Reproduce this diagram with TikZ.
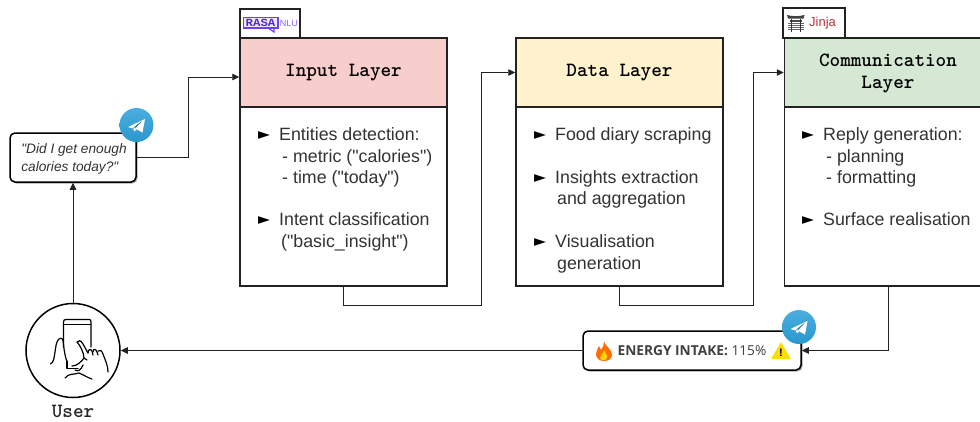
\documentclass[tikz,border=0pt]{standalone}
\usepackage{fontspec}
\newfontfamily\bodyf{Liberation Sans}
\newfontfamily\dejaf{DejaVu Sans}
\newfontfamily\monof{Liberation Mono}
\newfontfamily\opens{Open Sans}
\usetikzlibrary{arrows.meta,shadows}
\definecolor{hpink}{HTML}{F8CECC}
\definecolor{hyellow}{HTML}{FFF2CC}
\definecolor{hgreen}{HTML}{D5E8D4}
\definecolor{tgblue}{HTML}{2B9FD9}
\definecolor{rasap}{HTML}{6F3FF5}
\definecolor{jinjar}{HTML}{B8343C}
\definecolor{linec}{HTML}{222222}
\definecolor{textc}{HTML}{333333}
\tikzset{
  x=1pt,y=-1pt,
  headbox/.style={draw=linec,line width=1.5pt,minimum width=207pt,minimum height=69pt,inner sep=0pt,align=center,
    font=\ttfamily\bfseries\fontsize{20.2}{22}\selectfont},
  bodybox/.style={draw=linec,line width=1.5pt,fill=white,minimum width=207pt,minimum height=179pt,inner sep=0pt},
  tabbox/.style={draw=linec,line width=1.5pt,fill=white,inner sep=0pt},
  line/.style={anchor=base west,yshift=-6pt,inner sep=0pt,font=\bodyf\fontsize{17.8}{19}\selectfont,text=textc},
  tick/.style={anchor=base west,yshift=-5.5pt,inner sep=0pt,font=\dejaf\fontsize{15.5}{15}\selectfont,text=black},
  bubble/.style={draw=black,line width=1.5pt,fill=white,rounded corners=5pt,inner sep=0pt,align=center,
    drop shadow={shadow xshift=1.5pt,shadow yshift=-1.5pt,opacity=.35,fill=black}},
  conn/.style={draw=linec,line width=0.8pt,-{Triangle[length=7pt,width=6.5pt]}},
  hand/.style={draw=black,line width=1.2pt,line cap=round,line join=round},
  tgcircle/.style={circle,top color=tgblue!85!white,bottom color=tgblue!95!black,minimum size=34pt,inner sep=0pt},
}
\newcommand{\planeat}[1]{%
  \begin{scope}[shift={(#1.center)}]
  \fill[white] (-8.5,2) -- (8.5,-6) -- (6,7.5) -- (0,4.3) -- (-2,6.5) -- (-3.5,3.5) -- cycle;
  \draw[tgblue!70!black,line width=0.4pt] (-3.5,3.5) -- (5,-3.5) -- (-1.5,3.3);
  \end{scope}
}
\begin{document}
\begin{tikzpicture}
\useasboundingbox (0,0) rectangle (980,421);
\clip (0,0) rectangle (980,421);
% tabs
\node[tabbox,minimum width=60pt,minimum height=29pt] (rasatab) at (270,23.5) {};
\node[tabbox,minimum width=62pt,minimum height=30pt] (jinjatab) at (814,23) {};
% rasa logo
\draw[rasap,line width=1.2pt,fill=rasap!12] (243.5,17.5) rectangle (278,28);
\draw[rasap,line width=1.2pt] (268,28) -- (274,32) -- (274,28);
\node[inner sep=0pt,text=rasap!75!black,xscale=1.12,font=\monof\bfseries\fontsize{11}{11}\selectfont] (rasaword) at (260.5,23) {RASA};
\node[inner sep=0pt,text=rasap!80!white,font=\bodyf\fontsize{9}{10}\selectfont] (nlu) at (288.8,23) {NLU};
% jinja logo
\fill[black!75] (787,15) .. controls (792,16.5) and (799,16.5) .. (804.5,15) -- (803.5,18.5) -- (788,18.5) -- cycle;
\fill[black!70] (789.5,20) rectangle (802,21.5);
\foreach \yy in {23,25,27,29}{\fill[black!60] (788,\yy) rectangle (803.5,\yy+1);}
\fill[black!80] (790.5,19) rectangle (792,32);
\fill[black!80] (799.5,19) rectangle (801,32);
\node[inner sep=0pt,text=jinjar,font=\bodyf\fontsize{13}{14}\selectfont] (jinjaword) at (822.5,23.5) {Jinja};
% layers
\node[headbox,fill=hpink] (inhead) at (343.5,72.5) {Input Layer};
\node[bodybox] (inbody) at (343.5,196.5) {};
\node[headbox,fill=hyellow] (datahead) at (619.5,72.5) {Data Layer};
\node[bodybox] (databody) at (619.5,196.5) {};
\node[bodybox] (commbody) at (888,196.5) {};
\node[headbox,fill=hgreen] (commhead) at (888,72.5) {};
\node[inner sep=0pt,align=center,font=\ttfamily\bfseries\fontsize{20.2}{22}\selectfont] (commtext) at (888,73.5) {Communication\\Layer};
% input text
\foreach \yy/\nn in {134/a,219/b}{\node[tick] (inb\nn) at (258,\yy) {►};}
\node[line] (in1) at (279,134) {Entities detection:};
\node[line] (in2) at (282,156) {- metric ("calories")};
\node[line] (in3) at (282,177) {- time ("today")};
\node[line] (in4) at (279,219) {Intent classification};
\node[line] (in5) at (281,241) {("basic\_insight")};
% data text
\foreach \yy/\nn in {134/a,177/b,241/c}{\node[tick] (dab\nn) at (534,\yy) {►};}
\node[line] (da1) at (555,134) {Food diary scraping};
\node[line] (da2) at (555,177) {Insights extraction};
\node[line] (da3) at (557,198) {and aggregation};
\node[line] (da4) at (555,241) {Visualisation};
\node[line] (da5) at (557,263) {generation};
% comm text
\foreach \yy/\nn in {134/a,219/b}{\node[tick] (cob\nn) at (802,\yy) {►};}
\node[line] (co1) at (823,134) {Reply generation:};
\node[line] (co2) at (826,156) {- planning};
\node[line] (co3) at (826,177) {- formatting};
\node[line] (co4) at (823,219) {Surface realisation};
% bubbles
\node[bubble,minimum width=126pt,minimum height=49pt] (ask) at (73,157.5) {};
\node[inner sep=0pt,align=left,font=\bodyf\itshape\fontsize{13.7}{18}\selectfont,text=black!80] (asktext) at (74,159) {"Did I get enough\\calories today?"};
\node[bubble,minimum width=218pt,minimum height=39pt] (reply) at (692,350.5) {};
\node[inner sep=0pt,font=\opens\fontsize{13.7}{15}\selectfont,text=black!75] (replytext) at (692,351) {\textbf{ENERGY INTAKE:} 115\%};
% fire
\fill[orange!85!red] (604,341.5) .. controls (605,346) and (612,349) .. (612,355) .. controls (612,359) and (608,361) .. (604,361) .. controls (599,361) and (596,358) .. (596,354) .. controls (596,351) and (598,349) .. (599,346) .. controls (600,348) and (601,350) .. (601,350) .. controls (603,348) and (604,345) .. (604,341.5) -- cycle;
\fill[yellow!70!orange] (604,350) .. controls (605,353) and (608,355) .. (607,358) .. controls (606,361) and (601,361) .. (600,358) .. controls (600,355) and (603,354) .. (604,350) -- cycle;
% warning
\fill[yellow!80!orange,rounded corners=1pt] (781,342) -- (791,359) -- (771,359) -- cycle;
\node[inner sep=0pt,font=\bodyf\bfseries\fontsize{11}{12}\selectfont,text=black] (warnmark) at (781,352.5) {!};
% telegram icons
\node[tgcircle] (tg1) at (136.5,125) {};
\planeat{tg1}
\node[tgcircle] (tg2) at (799,327) {};
\planeat{tg2}
% user
\node[circle,draw=black,line width=1.5pt,fill=white,minimum size=94pt,inner sep=0pt] (user) at (73,350.5) {};
\node[inner sep=0pt,font=\ttfamily\bfseries\fontsize{20.2}{20}\selectfont,text=black!85] (usertext) at (73,411) {User};
% hand and phone icon
\draw[hand] (63.5,347) -- (63.5,322) .. controls (63.5,320) and (64.5,319.5) .. (66,319.5) -- (89,319.5) .. controls (90.5,319.5) and (91,320) .. (91,322) -- (91,347);
\draw[hand] (63.5,324.5) -- (91,324.5);
\draw[hand] (50.5,364) .. controls (54,362) and (54,358) .. (55,352) .. controls (56,346) and (56,342) .. (59,339) .. controls (62,337) and (63,339) .. (63.5,344) .. controls (64,350) and (65,356) .. (67,362);
\draw[hand] (67,361) -- (67,368.5) -- (78,368.5);
\draw[hand] (65,378) .. controls (69,373) and (73,375) .. (79,373) .. controls (84,375) and (88,378) .. (92,379);
\draw[hand] (72,366) .. controls (77,366) and (81,362) .. (84,358) .. controls (84,353) and (80,345) .. (77,342) .. controls (78,340) and (81,340) .. (83,344) -- (88,353);
\draw[hand] (88,353) .. controls (88,350) and (90,348) .. (92,351) -- (93,355);
\draw[hand] (93,352) .. controls (93,348) and (96,349) .. (97,352) -- (98,355);
\draw[hand] (98,351) .. controls (100,349) and (102,351) .. (103,354) .. controls (106,362) and (108,366) .. (108,372);
\draw[hand] (84,358) -- (87,360);
\draw[hand] (75,370) .. controls (78,372) and (81,370) .. (83,365);
% connectors
\coordinate (b1) at (188,157.5);
\coordinate (inpt) at (inhead.west |- 0,77);
\draw[conn] (ask.east) -- (b1) |- (inpt);
\coordinate (b2) at (343.5,305);
\coordinate (b3) at (481,305);
\draw[conn] (inbody.south) -- (b2) -- (b3) |- (datahead.west);
\coordinate (b4) at (619.5,305);
\coordinate (b5) at (753,305);
\draw[conn] (databody.south) -- (b4) -- (b5) |- (commhead.west);
\coordinate (b6) at (888,350.5);
\draw[conn] (commbody.south) -- (b6) -- (reply.east);
\draw[conn] (reply.west) -- (user.east);
\draw[conn] (user.north) -- (ask.south);
\end{tikzpicture}
\end{document}
